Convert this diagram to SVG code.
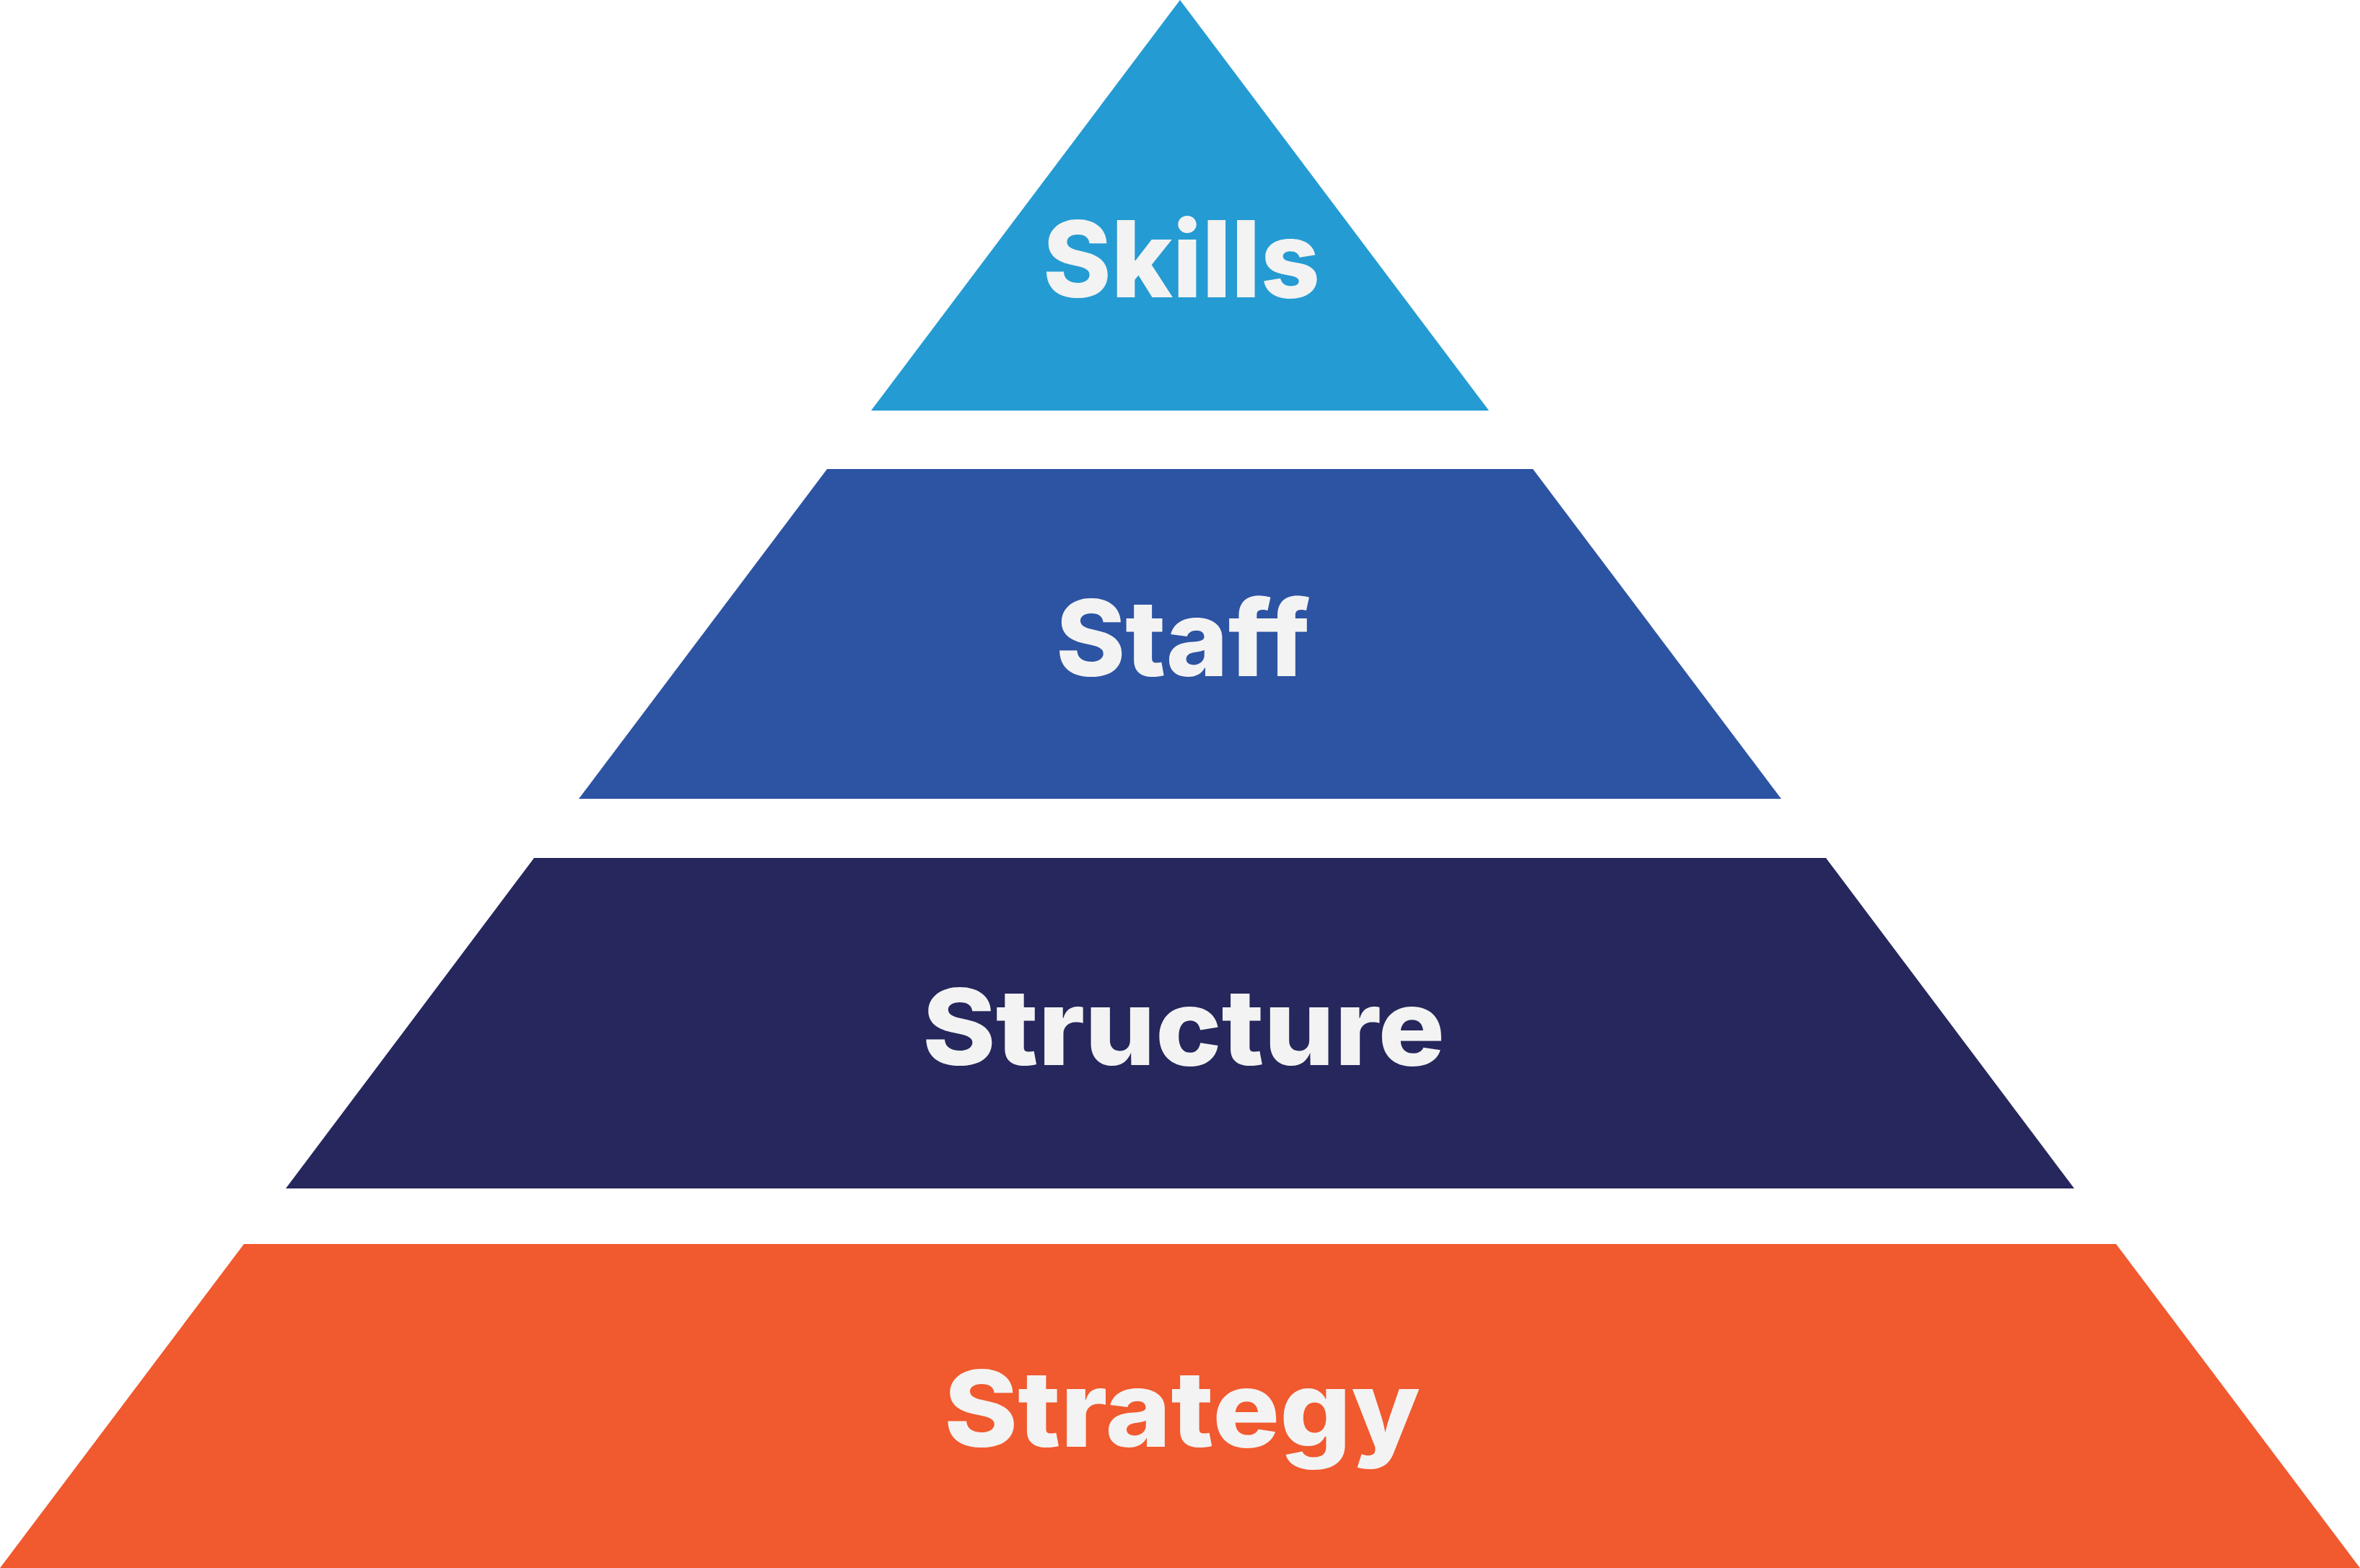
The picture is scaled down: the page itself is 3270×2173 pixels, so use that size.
<svg xmlns="http://www.w3.org/2000/svg" width="3270" height="2173" viewBox="0 0 3270 2173">
<style>
.lbl{font-family:Inter,"Open Sans","Liberation Sans",sans-serif;font-weight:800;font-size:147px;fill:#F3F3F3;text-anchor:middle}
</style>
<rect x="0" y="0" width="3270" height="2173" fill="#FFFFFF"/>
<g id="skills">
<polygon points="1635,0 2063,569 1207,569" fill="#259BD3"/>
<text class="lbl" x="1637" y="412" textLength="384" lengthAdjust="spacingAndGlyphs">Skills</text>
</g>
<g id="staff">
<polygon points="1146,650 2124,650 2468,1107 802,1107" fill="#2D53A3"/>
<text class="lbl" x="1639" y="937" textLength="352" lengthAdjust="spacingAndGlyphs">Staff</text>
</g>
<g id="structure">
<polygon points="740,1189 2530,1189 2874,1647 396,1647" fill="#26275C"/>
<text class="lbl" x="1640" y="1476" textLength="724" lengthAdjust="spacingAndGlyphs">Structure</text>
</g>
<g id="strategy">
<polygon points="338,1724 2932,1724 3270,2173 0,2173" fill="#F1592E"/>
<text class="lbl" x="1638" y="2005" textLength="660" lengthAdjust="spacingAndGlyphs">Strategy</text>
</g>
<g id="connectors"/>
</svg>
